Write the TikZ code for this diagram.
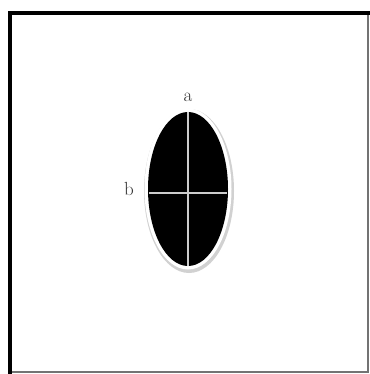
\documentclass[tikz,border=0pt]{standalone}
\begin{document}
\begin{tikzpicture}[x=1pt,y=-1pt,
  thick frame/.style={line width=4pt,black},
  thin frame/.style={line width=1.2pt,black!55},
  lbl/.style={font=\fontsize{19}{21}\selectfont,inner sep=0pt,text=black!80}]
\useasboundingbox (0,0) rectangle (369,374);
\fill[white] (0,0) rectangle (369,374);
% frame
\coordinate (tl) at (10,13.5);
\coordinate (tr) at (368,13.5);
\coordinate (bl) at (10,372);
\coordinate (br) at (368,372);
\draw[thin frame] (tr) -- (br) -- (bl);
\draw[thick frame, line cap=rect] (bl) -- (tl) -- (tr);
% ellipse with shadow and white rim
\fill[black!18] (189,191) ellipse [x radius=45, y radius=82];
\fill[white] (188,189) ellipse [x radius=43.5, y radius=80.5];
\fill[black] (188,189) ellipse [x radius=40, y radius=77];
\coordinate (top) at (188,112);
\coordinate (bot) at (188,266);
\coordinate (lft) at (149,193);
\coordinate (rgt) at (227,193);
\draw[white!80!black, line width=1.5pt] (top) -- (bot);
\draw[white!80!black, line width=1.5pt] (lft) -- (rgt);
\node[lbl] (a) at (188,97) {a};
\node[lbl] (b) at (129,189) {b};
\end{tikzpicture}
\end{document}
